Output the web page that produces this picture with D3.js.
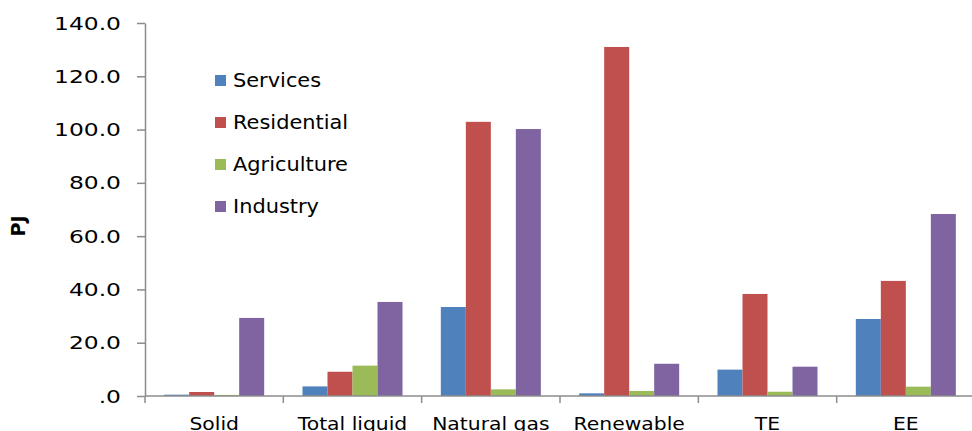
<!DOCTYPE html>
<html><head><meta charset="utf-8">
<script src="https://cdn.jsdelivr.net/npm/d3@7/dist/d3.min.js"></script>
<style>body{margin:0;background:#fff}svg{display:block}text{font-family:"DejaVu Sans",Verdana,sans-serif;fill:#000}</style>
</head><body><svg id="c" width="972" height="431"></svg>
<script>
const categories = ["Solid","Total liquid","Natural gas","Renewable","TE","EE"];
const seriesNames = ["Services","Residential","Agriculture","Industry"];
const services    = [0.5, 3.6, 33.4, 1.0, 9.9, 28.9];
const residential = [1.5, 9.1, 102.9, 131.0, 38.3, 43.2];
const agriculture = [0.4, 11.4, 2.5, 1.9, 1.6, 3.5];
const industry    = [29.3, 35.3, 100.2, 12.1, 11.0, 68.3];
const yTicks = [0,20,40,60,80,100,120,140];
const colors = ["#4F81BD","#C0504D","#9BBB59","#8064A2"];
const series = [services, residential, agriculture, industry];

const svg = d3.select("#c");
const L = 145, R = 975, T = 23, B = 396;
const x0 = d3.scaleBand().domain(categories).range([L,R]).paddingInner(0.277).paddingOuter(0.1385);
const x1 = d3.scaleBand().domain(seriesNames).range([0,x0.bandwidth()]);
const y = d3.scaleLinear().domain([0,140]).range([B,T]);
const axisColor = "#8c8c8c";

// bars
categories.forEach((c,i)=>{
  const g = svg.append("g").attr("transform",`translate(${x0(c)},0)`);
  seriesNames.forEach((s,j)=>{
    g.append("rect").attr("x",x1(s)).attr("width",x1.bandwidth())
      .attr("y",y(series[j][i])).attr("height",B-y(series[j][i]))
      .attr("fill",colors[j]);
  });
});

// y axis
const fmt = v => { const s = d3.format(".1f")(v); return s.startsWith("0.") ? s.slice(1) : s; };
const ya = svg.append("g").attr("transform",`translate(${L},0)`)
  .call(d3.axisLeft(y).tickValues(yTicks).tickSize(8).tickSizeOuter(0).tickFormat(fmt));
ya.select(".domain").attr("stroke",axisColor).attr("stroke-width",1.5);
ya.selectAll(".tick line").attr("stroke",axisColor).attr("stroke-width",1.5);
ya.selectAll(".tick text").each(function(){
  const t = d3.select(this);
  t.attr("x",null).attr("dy",null).attr("font-size",18).attr("text-anchor","end")
   .attr("dominant-baseline","central")
   .attr("transform","translate(-24,0) scale(1.3,1)");
});

// x axis
const xa = svg.append("g").attr("transform",`translate(0,${B})`);
xa.append("line").attr("x1",L).attr("x2",R).attr("stroke",axisColor).attr("stroke-width",1.5);
const bounds = categories.map(c=>x0(c)-x0.step()*x0.paddingInner()/2);
bounds.forEach(bx=>{
  xa.append("line").attr("x1",bx).attr("x2",bx).attr("y1",0).attr("y2",7).attr("stroke",axisColor).attr("stroke-width",1.5);
});
categories.forEach(c=>{
  xa.append("text").attr("transform",`translate(${x0(c)+x0.bandwidth()/2},34) scale(1.13,1)`)
    .attr("text-anchor","middle").attr("font-size",18).text(c);
});

// y label
svg.append("text").attr("transform","translate(25,226) rotate(-90)")
  .attr("text-anchor","middle").attr("font-size",19).attr("font-weight","bold").text("PJ");

// legend
seriesNames.forEach((s,j)=>{
  const gy = 80.5 + j*42;
  svg.append("rect").attr("x",215).attr("y",gy-5.5).attr("width",11).attr("height",11).attr("fill",colors[j]);
  svg.append("text").attr("transform",`translate(233,${gy+6.5}) scale(1.1,1)`)
    .attr("font-size",19).text(s);
});
</script></body></html>
